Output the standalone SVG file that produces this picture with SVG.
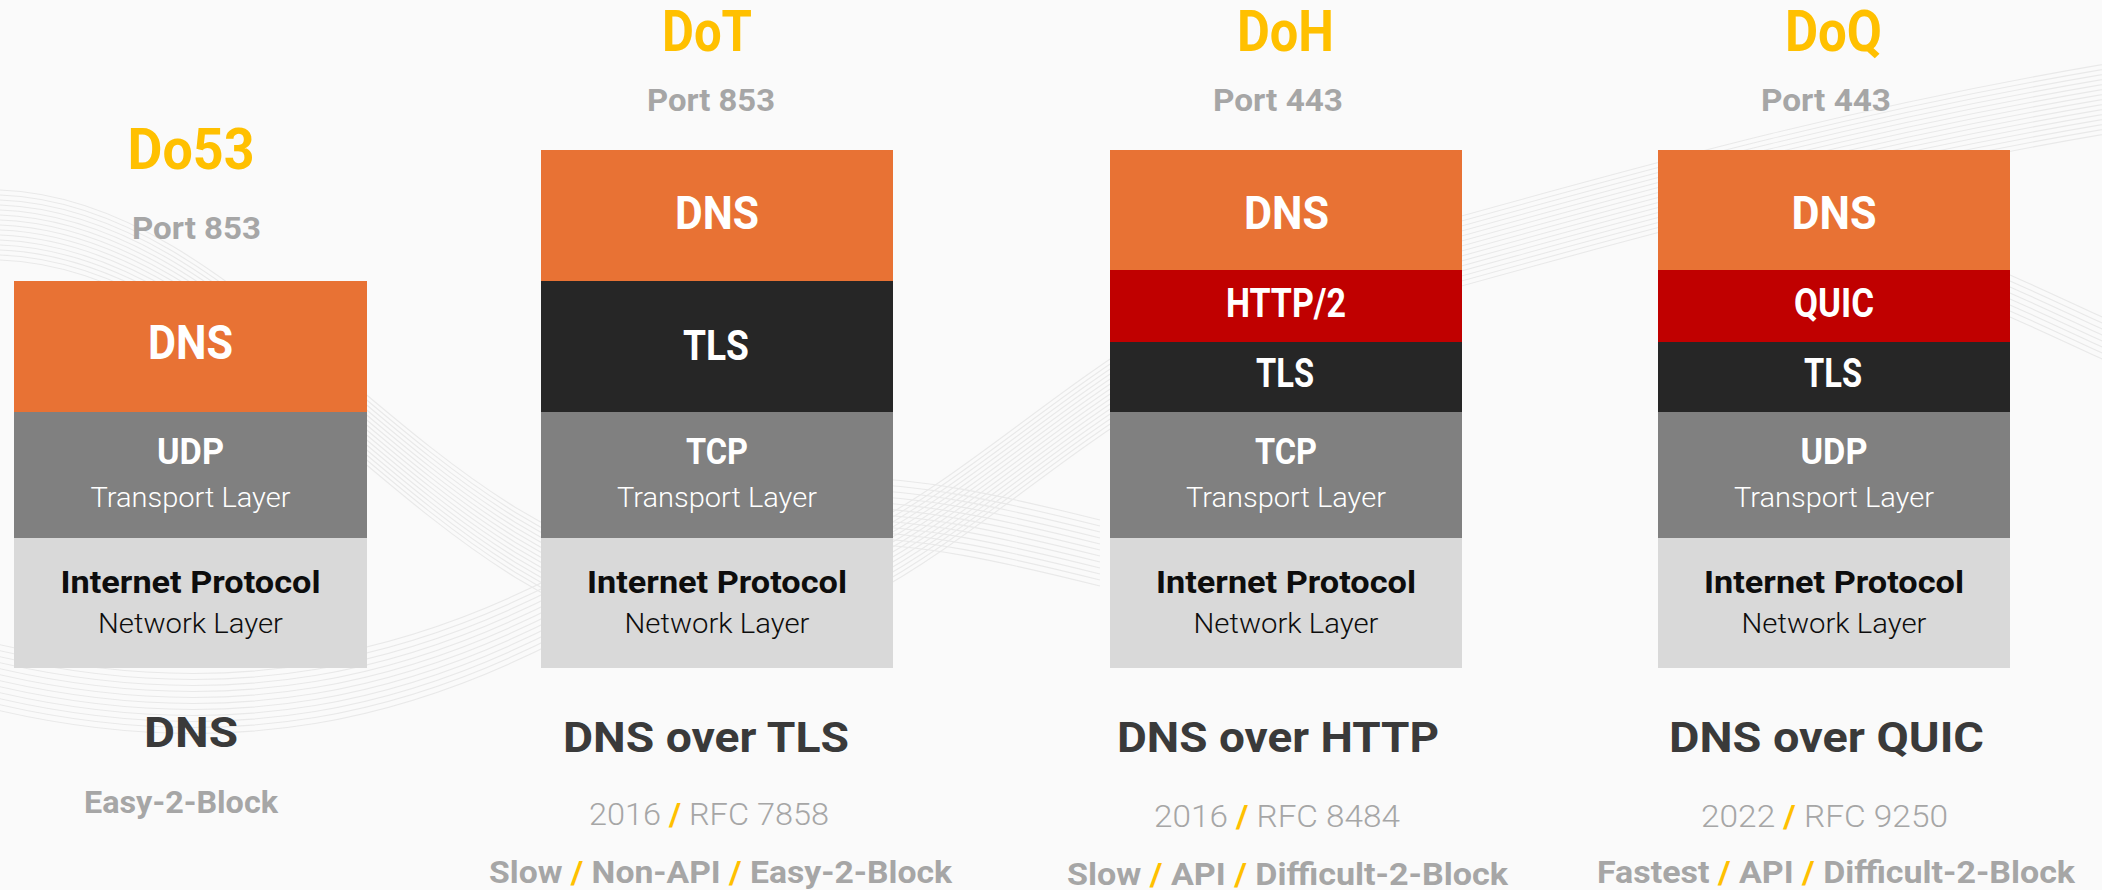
<svg xmlns="http://www.w3.org/2000/svg" xmlns:xlink="http://www.w3.org/1999/xlink" width="2102" height="890" viewBox="0 0 2102 890">
<style>
text{font-family:Roboto,"Liberation Sans",sans-serif;text-anchor:middle}
.title{font-size:58px;font-weight:700;fill:#FFC000}
.port{font-size:31px;font-weight:700;fill:#A6A6A6}
.lbl{font-weight:700;fill:#FFFFFF}
.sub{font-size:28px;font-weight:300;fill:#FFFFFF}
.ip{font-size:32px;font-weight:700;fill:#0D0D0D}
.net{font-size:28px;font-weight:300;fill:#0D0D0D}
.name{font-size:42px;font-weight:700;fill:#3A3A3A}
.rfc{font-size:31px;font-weight:300;fill:#A6A6A6}
.feat{font-size:32px;font-weight:700;fill:#A6A6A6}
.sl{fill:#FFC000}
.dns{fill:#E87234}
.tls{fill:#262626}
.red{fill:#C00000}
.tr{fill:#808080}
.nw{fill:#D9D9D9}
.wave{fill:none;stroke:#E9E9E9;stroke-width:1.1}
</style>
<defs>
<path id="w1" d="M -20 190 C 250 180, 430 560, 700 570 C 920 575, 1060 330, 1320 255 C 1560 190, 1820 110, 2130 60"/>
<path id="w2" d="M -20 640 C 220 700, 420 660, 620 540 C 780 450, 900 470, 1100 520"/>
<path id="w3" d="M 1700 170 C 1850 200, 1980 260, 2130 330"/>
</defs>
<rect width="2102" height="890" fill="#FAFAFA"/>
<g id="background" class="wave">
<use href="#w1"/><use href="#w1" y="5"/><use href="#w1" y="10"/><use href="#w1" y="15"/><use href="#w1" y="20"/><use href="#w1" y="25"/><use href="#w1" y="30"/><use href="#w1" y="35"/><use href="#w1" y="40"/><use href="#w1" y="45"/><use href="#w1" y="50"/><use href="#w1" y="55"/><use href="#w1" y="60"/><use href="#w1" y="65"/><use href="#w1" y="70"/>
<use href="#w2"/><use href="#w2" y="6"/><use href="#w2" y="12"/><use href="#w2" y="18"/><use href="#w2" y="24"/><use href="#w2" y="30"/><use href="#w2" y="36"/><use href="#w2" y="42"/><use href="#w2" y="48"/><use href="#w2" y="54"/><use href="#w2" y="60"/><use href="#w2" y="66"/>
<use href="#w3"/><use href="#w3" y="6"/><use href="#w3" y="12"/><use href="#w3" y="18"/><use href="#w3" y="24"/><use href="#w3" y="30"/><use href="#w3" y="36"/><use href="#w3" y="42"/>
</g>

<g id="do53">
<text class="title" x="191" y="169" textLength="127" lengthAdjust="spacingAndGlyphs">Do53</text>
<text class="port" x="196.5" y="239" textLength="129" lengthAdjust="spacingAndGlyphs">Port 853</text>
<rect class="dns" x="14" y="281" width="353" height="131"/>
<rect class="tr" x="14" y="412" width="353" height="126"/>
<rect class="nw" x="14" y="538" width="353" height="130"/>
<text class="lbl" x="190.5" y="359" font-size="48" textLength="85" lengthAdjust="spacingAndGlyphs">DNS</text>
<text class="lbl" x="190.5" y="464" font-size="37" textLength="67" lengthAdjust="spacingAndGlyphs">UDP</text>
<text class="sub" x="190.5" y="507" textLength="200" lengthAdjust="spacingAndGlyphs">Transport Layer</text>
<text class="ip" x="190.5" y="593" textLength="260" lengthAdjust="spacingAndGlyphs">Internet Protocol</text>
<text class="net" x="190.5" y="633" textLength="185" lengthAdjust="spacingAndGlyphs">Network Layer</text>
<text class="name" x="191" y="747" textLength="94" lengthAdjust="spacingAndGlyphs">DNS</text>
<text class="feat" x="181" y="813" textLength="194" lengthAdjust="spacingAndGlyphs">Easy-2-Block</text>
</g>

<g id="dot">
<text class="title" x="707" y="51" textLength="90" lengthAdjust="spacingAndGlyphs">DoT</text>
<text class="port" x="711" y="111" textLength="128" lengthAdjust="spacingAndGlyphs">Port 853</text>
<rect class="dns" x="541" y="150" width="352" height="131"/>
<rect class="tls" x="541" y="281" width="352" height="131"/>
<rect class="tr" x="541" y="412" width="352" height="126"/>
<rect class="nw" x="541" y="538" width="352" height="130"/>
<text class="lbl" x="717" y="229" font-size="46" textLength="84" lengthAdjust="spacingAndGlyphs">DNS</text>
<text class="lbl" x="716" y="360" font-size="42" textLength="66" lengthAdjust="spacingAndGlyphs">TLS</text>
<text class="lbl" x="717" y="464" font-size="37" textLength="62" lengthAdjust="spacingAndGlyphs">TCP</text>
<text class="sub" x="717" y="507" textLength="200" lengthAdjust="spacingAndGlyphs">Transport Layer</text>
<text class="ip" x="717" y="593" textLength="260" lengthAdjust="spacingAndGlyphs">Internet Protocol</text>
<text class="net" x="717" y="633" textLength="185" lengthAdjust="spacingAndGlyphs">Network Layer</text>
<text class="name" x="706" y="752" textLength="286" lengthAdjust="spacingAndGlyphs">DNS over TLS</text>
<text class="rfc" x="709" y="825" textLength="240" lengthAdjust="spacingAndGlyphs">2016 <tspan class="sl" font-weight="700">/</tspan> RFC 7858</text>
<text class="feat" x="720.5" y="883" textLength="463" lengthAdjust="spacingAndGlyphs">Slow <tspan class="sl">/</tspan> Non-API <tspan class="sl">/</tspan> Easy-2-Block</text>
</g>

<g id="doh">
<text class="title" x="1285.5" y="51" textLength="97" lengthAdjust="spacingAndGlyphs">DoH</text>
<text class="port" x="1278" y="111" textLength="130" lengthAdjust="spacingAndGlyphs">Port 443</text>
<rect class="dns" x="1110" y="150" width="352" height="120"/>
<rect class="red" x="1110" y="270" width="352" height="72"/>
<rect class="tls" x="1110" y="342" width="352" height="70"/>
<rect class="tr" x="1110" y="412" width="352" height="126"/>
<rect class="nw" x="1110" y="538" width="352" height="130"/>
<text class="lbl" x="1286.5" y="229" font-size="46" textLength="85" lengthAdjust="spacingAndGlyphs">DNS</text>
<text class="lbl" x="1286" y="317" font-size="40" textLength="120" lengthAdjust="spacingAndGlyphs">HTTP/2</text>
<text class="lbl" x="1285" y="387" font-size="40" textLength="58" lengthAdjust="spacingAndGlyphs">TLS</text>
<text class="lbl" x="1286" y="464" font-size="37" textLength="62" lengthAdjust="spacingAndGlyphs">TCP</text>
<text class="sub" x="1286" y="507" textLength="200" lengthAdjust="spacingAndGlyphs">Transport Layer</text>
<text class="ip" x="1286" y="593" textLength="260" lengthAdjust="spacingAndGlyphs">Internet Protocol</text>
<text class="net" x="1286" y="633" textLength="185" lengthAdjust="spacingAndGlyphs">Network Layer</text>
<text class="name" x="1278" y="752" textLength="322" lengthAdjust="spacingAndGlyphs">DNS over HTTP</text>
<text class="rfc" x="1277" y="827" textLength="246" lengthAdjust="spacingAndGlyphs">2016 <tspan class="sl" font-weight="700">/</tspan> RFC 8484</text>
<text class="feat" x="1287.5" y="885" textLength="441" lengthAdjust="spacingAndGlyphs">Slow <tspan class="sl">/</tspan> API <tspan class="sl">/</tspan> Difficult-2-Block</text>
</g>

<g id="doq">
<text class="title" x="1833.5" y="51" textLength="97" lengthAdjust="spacingAndGlyphs">DoQ</text>
<text class="port" x="1826" y="111" textLength="130" lengthAdjust="spacingAndGlyphs">Port 443</text>
<rect class="dns" x="1658" y="150" width="352" height="120"/>
<rect class="red" x="1658" y="270" width="352" height="72"/>
<rect class="tls" x="1658" y="342" width="352" height="70"/>
<rect class="tr" x="1658" y="412" width="352" height="126"/>
<rect class="nw" x="1658" y="538" width="352" height="130"/>
<text class="lbl" x="1834" y="229" font-size="46" textLength="85" lengthAdjust="spacingAndGlyphs">DNS</text>
<text class="lbl" x="1834" y="317" font-size="40" textLength="80" lengthAdjust="spacingAndGlyphs">QUIC</text>
<text class="lbl" x="1833" y="387" font-size="40" textLength="58" lengthAdjust="spacingAndGlyphs">TLS</text>
<text class="lbl" x="1834" y="464" font-size="37" textLength="67" lengthAdjust="spacingAndGlyphs">UDP</text>
<text class="sub" x="1834" y="507" textLength="200" lengthAdjust="spacingAndGlyphs">Transport Layer</text>
<text class="ip" x="1834" y="593" textLength="260" lengthAdjust="spacingAndGlyphs">Internet Protocol</text>
<text class="net" x="1834" y="633" textLength="185" lengthAdjust="spacingAndGlyphs">Network Layer</text>
<text class="name" x="1826.5" y="752" textLength="315" lengthAdjust="spacingAndGlyphs">DNS over QUIC</text>
<text class="rfc" x="1824.5" y="827" textLength="247" lengthAdjust="spacingAndGlyphs">2022 <tspan class="sl" font-weight="700">/</tspan> RFC 9250</text>
<text class="feat" x="1836" y="883" textLength="478" lengthAdjust="spacingAndGlyphs">Fastest <tspan class="sl">/</tspan> API <tspan class="sl">/</tspan> Difficult-2-Block</text>
</g>
</svg>
